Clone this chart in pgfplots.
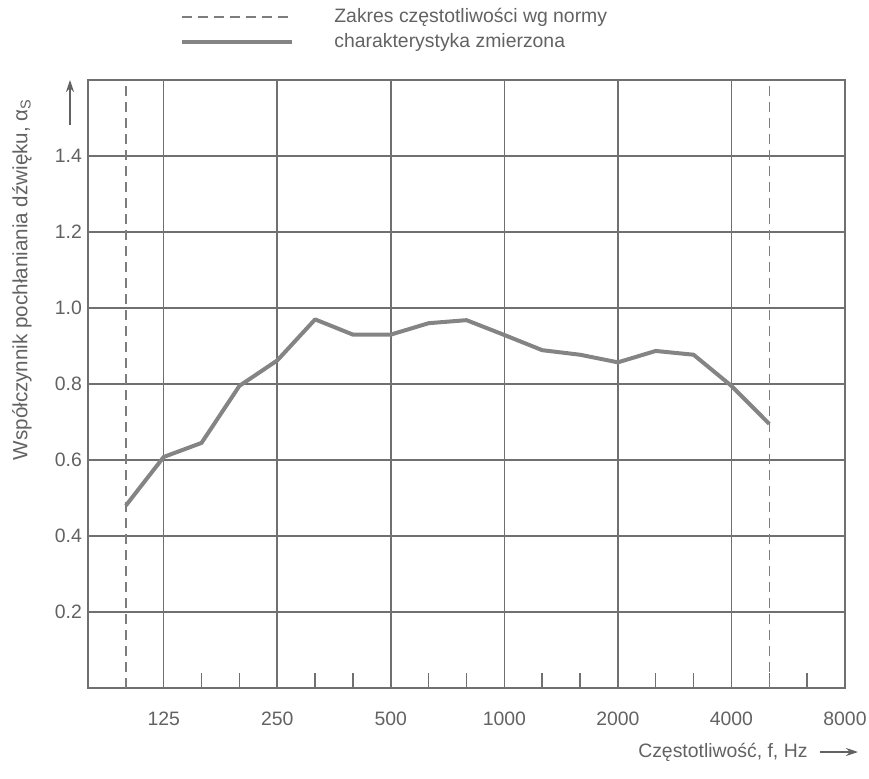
\documentclass[border=0pt]{standalone}
\usepackage{fontspec}
\setmainfont{Liberation Sans}
\usepackage{pgfplots}
\pgfplotsset{compat=1.18}
\usetikzlibrary{arrows.meta}
\definecolor{txt}{RGB}{98,98,98}
\definecolor{gridc}{RGB}{112,112,112}
\definecolor{dashc}{RGB}{125,125,125}
\definecolor{linec}{RGB}{132,132,132}

\pgfplotstableread{
x   y
1   0.48
2   0.608
3   0.645
4   0.795
5   0.862
6   0.970
7   0.930
8   0.930
9   0.960
10  0.968
11  0.929
12  0.889
13  0.877
14  0.857
15  0.887
16  0.877
17  0.795
18  0.695
}\measured

\begin{document}
\begin{tikzpicture}[font=\fontsize{9.7}{11.6}\selectfont]
\path[use as bounding box] (-44pt,-45pt) rectangle (390.5pt,344pt);
\begin{axis}[
  at={(0pt,0pt)}, anchor=south west,
  scale only axis, width=378.5pt, height=304pt,
  xmin=0, xmax=20, ymin=0, ymax=1.6,
  xtick={2,5,8,11,14,17,20},
  xticklabels={125,250,500,1000,2000,4000,8000},
  minor xtick={3,4,6,7,9,10,12,13,15,16,18,19},
  ytick={0.2,0.4,0.6,0.8,1.0,1.2,1.4},
  yticklabels={0.2,0.4,0.6,0.8,1.0,1.2,1.4},
  xmajorgrids, ymajorgrids,
  grid style={gridc, line width=0.75pt},
  axis line style={gridc, line width=0.75pt},
  tick align=inside,
  xtick pos=bottom, ytick pos=left,
  major tick length=0pt,
  minor tick length=7.5pt,
  minor tick style={gridc, line width=0.75pt},
  tick label style={text=txt, font=\fontsize{9.7}{11.6}\selectfont},
  xticklabel style={anchor=center, yshift=-15.5pt},
  yticklabel style={anchor=east, xshift=0.5pt},
  xlabel={Częstotliwość, f, Hz},
  xlabel style={at={(axis description cs:0.951,-0.1135)}, anchor=base east, text=txt, inner sep=0pt},
  ylabel={Współczynnik pochłaniania dźwięku, α\textsubscript{S}},
  ylabel style={at={(axis description cs:-0.0872,0.672)}, anchor=center, text=txt, inner sep=0pt,
    font=\fontsize{10.3}{12}\selectfont},
  legend image code/.code={\draw[#1] (0pt,0pt) -- (55pt,0pt); \path (75pt,0pt);},
  legend style={draw=none, fill=none, inner sep=0pt, row sep=2.5pt,
    at={(axis description cs:0.1215,1.083)}, anchor=west,
    nodes={inner sep=0pt, text height=7.5pt, text depth=2.5pt, text=txt}},
  legend cell align=left,
]
\addplot[dashc, line width=0.75pt, dash pattern=on 5pt off 3pt] coordinates {(1,0) (1,1.6)};
\addlegendentry{Zakres częstotliwości wg normy}
\addplot[linec, line width=2pt, line join=round] table[x=x,y=y] {\measured};
\addlegendentry{charakterystyka zmierzona}
\addplot[dashc, line width=0.75pt, dash pattern=on 5pt off 3pt, forget plot] coordinates {(18,0) (18,1.6)};
\end{axis}
\draw[txt, line width=0.8pt, -{Stealth[length=6pt,width=4pt]}] (-9pt,281.5pt) -- (-9pt,304pt);
\draw[txt, line width=0.8pt, -{Stealth[length=6pt,width=4pt]}] (366pt,-32pt) -- (385pt,-32pt);
\end{tikzpicture}
\end{document}
